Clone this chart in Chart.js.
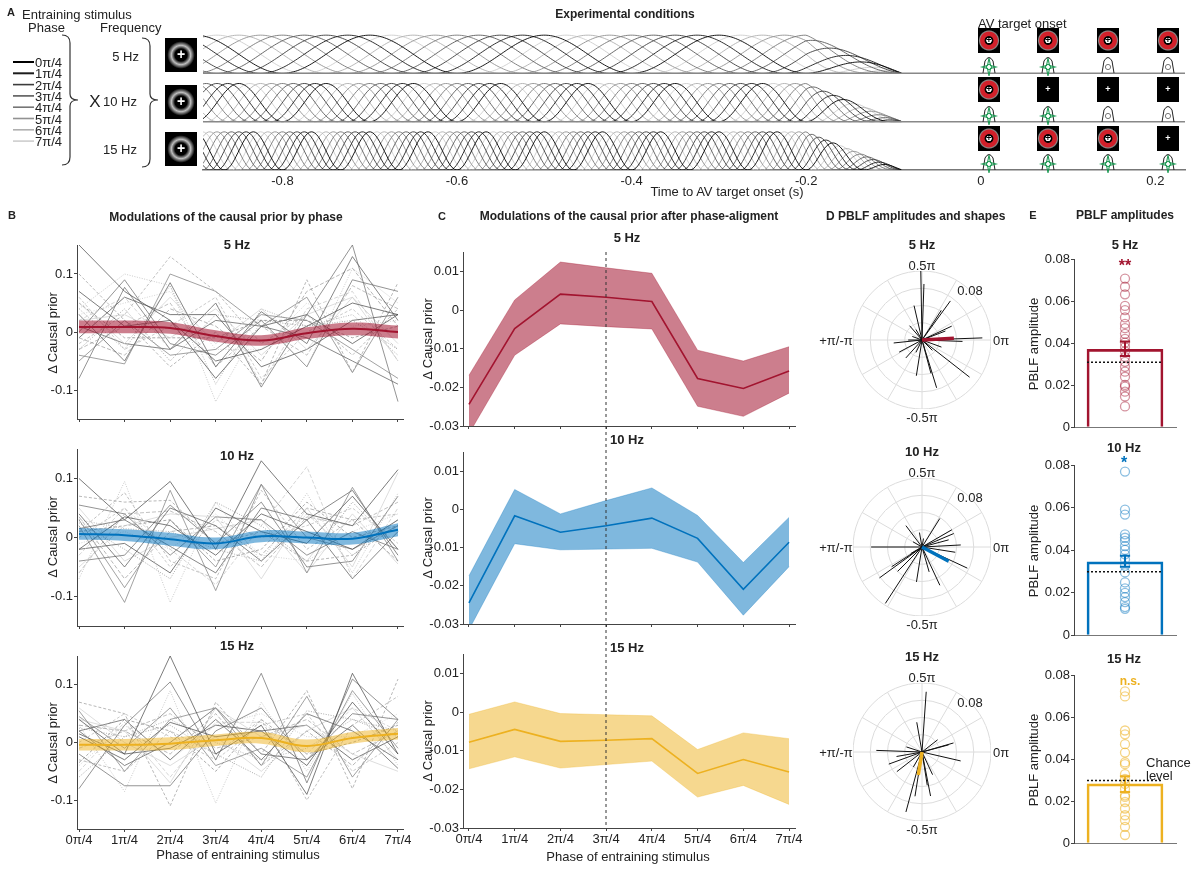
<!DOCTYPE html>
<html>
<head>
<meta charset="utf-8">
<title>Modulations of the causal prior</title>
<script src="https://cdn.jsdelivr.net/npm/chart.js@4.4.1/dist/chart.umd.min.js"></script>
<style>
  body { margin:0; width:1200px; height:876px; background:#fff; position:relative; overflow:hidden;
         font-family:'Liberation Sans', Arial, Helvetica, sans-serif; color:#222; }
  canvas { position:absolute; }
  .t { position:absolute; white-space:nowrap; line-height:1; z-index:5; }
  .icon { position:absolute; z-index:3; }
</style>
</head>
<body>
<script>
// ---------------- data ----------------
const phaseLabels = ['0π/4', '1π/4', '2π/4', '3π/4', '4π/4', '5π/4', '6π/4', '7π/4'];
const freqLabels = ['5 Hz', '10 Hz', '15 Hz'];

// panel A: entraining stimulus (frequency in Hz, phase in multiples of pi/4, timing in s)
const stimFreqs = [5, 10, 15];
const stimPhases = [0, 1, 2, 3, 4, 5, 6, 7];
const stimStart = -0.891;
const stimRampStart = -0.2;
const stimEnd = -0.09;
const timeTicks = [-0.8, -0.6, -0.4, -0.2, 0, 0.2];
// which target frames show the ring / the sound, per frequency row
const targetRing = [[1, 1, 1, 1], [1, 0, 0, 0], [1, 1, 1, 0]];
const targetSound = [[1, 1, 0, 0], [1, 1, 0, 0], [1, 1, 1, 1]];

// panel B: single participants (delta causal prior per phase)
const subj5Hz = [
  [0.15, 0.07, 0.02, -0.05, -0.03, 0.01, 0.05, 0.03],
  [0.10, 0.02, -0.06, 0.00, -0.09, 0.09, -0.07, 0.085],
  [-0.08, 0.077, -0.03, 0.05, -0.095, 0.03, 0.15, -0.12],
  [0.04, 0.10, 0.08, -0.12, 0.02, -0.06, 0.11, 0.05],
  [-0.04, -0.055, 0.10, 0.07, 0.01, 0.06, -0.07, 0.06],
  [0.02, 0.06, -0.03, 0.05, -0.09, 0.04, 0.07, -0.05],
  [0.03, -0.05, 0.085, -0.06, 0.035, -0.02, 0.13, 0.02],
  [-0.02, 0.03, 0.13, 0.07, -0.02, 0.03, -0.04, 0.04],
  [0.05, -0.02, 0.06, -0.02, 0.04, -0.03, 0.06, -0.05],
  [-0.03, 0.04, -0.05, 0.03, 0.02, 0.01, 0.02, -0.03],
  [0.07, 0.01, 0.02, -0.08, 0.01, 0.03, -0.02, 0.03],
  [-0.01, -0.04, 0.04, 0.01, -0.05, 0.07, 0.11, 0.01],
  [0.00, 0.09, -0.02, -0.04, 0.02, -0.06, 0.09, 0.07],
  [0.06, -0.03, 0.01, 0.06, -0.08, 0.00, 0.04, -0.03],
  [-0.05, 0.02, -0.04, -0.03, 0.03, 0.02, -0.03, -0.08],
  [0.03, 0.05, 0.07, -0.03, -0.03, 0.05, 0.01, 0.02],
  [0.01, -0.02, -0.03, 0.02, 0.01, -0.01, -0.05, -0.09],
  [-0.03, 0.01, 0.05, -0.06, 0.01, -0.04, 0.08, 0.04],
  [0.02, 0.03, -0.01, 0.04, -0.04, 0.03, 0.06, -0.02],
  [0.05, -0.01, -0.01, -0.01, 0.02, 0.02, -0.01, 0.01],
  [-0.01, 0.06, 0.03, 0.03, -0.06, -0.03, 0.02, 0.03],
  [0.04, -0.03, 0.08, -0.09, 0.04, 0.01, 0.03, -0.04]
];
const subj10Hz = [
  [0.10, 0.03, 0.095, -0.02, 0.13, 0.04, 0.02, 0.115],
  [0.07, 0.06, 0.063, -0.01, 0.01, -0.04, -0.03, 0.02],
  [0.055, 0.04, -0.03, 0.035, 0.03, -0.03, 0.01, -0.02],
  [-0.07, 0.095, -0.11, 0.06, -0.04, 0.075, -0.06, 0.075],
  [0.02, -0.11, 0.08, -0.09, 0.09, -0.06, 0.085, -0.04],
  [-0.03, 0.05, -0.02, -0.08, 0.02, 0.12, -0.07, 0.05],
  [0.04, -0.05, 0.05, 0.02, -0.04, 0.03, 0.08, -0.03],
  [0.01, 0.076, -0.04, -0.07, 0.08, -0.02, 0.03, 0.04],
  [-0.05, 0.02, 0.04, 0.035, -0.07, 0.05, -0.05, 0.11],
  [0.025, -0.02, -0.07, 0.06, 0.02, -0.04, 0.06, -0.02],
  [-0.02, 0.035, 0.02, -0.03, 0.04, 0.01, -0.02, 0.03],
  [0.035, -0.07, 0.01, 0.02, -0.03, 0.05, 0.03, -0.04],
  [-0.04, -0.03, 0.055, -0.01, 0.06, -0.05, -0.04, 0.07],
  [0.00, 0.05, -0.05, 0.03, 0.00, 0.02, 0.05, -0.01],
  [0.03, -0.085, 0.03, -0.05, 0.09, 0.00, -0.02, 0.02],
  [-0.01, 0.01, -0.02, 0.04, -0.03, -0.04, 0.01, 0.04],
  [0.015, 0.03, -0.015, -0.06, 0.05, 0.03, -0.07, 0.01],
  [-0.06, 0.04, 0.045, 0.01, -0.05, 0.035, 0.02, 0.06],
  [0.05, -0.04, 0.00, 0.015, 0.03, -0.06, 0.04, -0.045],
  [0.01, 0.02, 0.03, -0.04, -0.02, 0.06, 0.00, 0.02],
  [-0.02, -0.01, -0.06, 0.05, 0.01, -0.01, 0.07, -0.02],
  [0.03, 0.015, 0.01, -0.02, -0.04, 0.04, -0.03, 0.03]
];
const subj15Hz = [
  [0.04, -0.02, 0.15, -0.02, 0.03, -0.09, 0.12, -0.02],
  [0.07, 0.05, -0.11, 0.07, -0.02, 0.09, -0.08, 0.11],
  [-0.08, 0.03, 0.105, -0.03, 0.12, -0.07, 0.11, 0.04],
  [0.03, -0.085, 0.09, -0.105, 0.07, -0.05, 0.085, -0.04],
  [0.055, -0.05, 0.04, 0.06, -0.04, 0.08, -0.06, 0.04],
  [-0.05, 0.035, -0.06, 0.035, 0.035, -0.02, 0.06, 0.02],
  [0.02, 0.04, -0.03, 0.04, -0.03, 0.05, 0.02, -0.03],
  [-0.03, -0.05, 0.02, -0.02, 0.04, -0.10, 0.03, 0.08],
  [0.04, 0.02, -0.07, 0.06, 0.01, 0.03, -0.02, -0.05],
  [-0.06, 0.01, 0.03, -0.02, -0.06, 0.055, 0.04, 0.01],
  [0.01, -0.03, 0.035, 0.01, 0.02, -0.04, 0.07, -0.02],
  [0.03, 0.02, -0.02, 0.05, -0.04, 0.02, -0.04, 0.035],
  [-0.02, -0.075, -0.075, 0.02, 0.06, -0.03, 0.05, 0.04],
  [0.00, 0.05, 0.01, -0.03, 0.03, 0.05, -0.05, 0.00],
  [0.045, -0.01, 0.06, -0.04, -0.01, -0.06, 0.09, -0.01],
  [-0.04, 0.03, -0.03, 0.03, 0.05, 0.01, 0.01, 0.05],
  [0.02, -0.04, 0.00, 0.06, -0.02, -0.03, 0.03, -0.045],
  [-0.01, 0.02, 0.05, -0.01, 0.01, 0.04, -0.02, 0.02],
  [0.06, 0.00, -0.04, 0.01, -0.05, 0.02, 0.06, -0.03],
  [-0.035, 0.04, 0.02, -0.05, 0.04, -0.02, 0.00, 0.03],
  [0.015, -0.02, -0.01, 0.03, 0.02, 0.03, -0.03, 0.01],
  [0.025, 0.01, 0.04, 0.00, -0.03, -0.01, 0.04, 0.02]
];
// panel B: group mean and s.e.m.
const meanB5 = [0.0087, 0.0087, 0.0070, -0.0070, -0.0145, -0.0020, 0.0055, 0.0000];
const semB5 = [0.011, 0.011, 0.010, 0.010, 0.009, 0.010, 0.011, 0.011];
const meanB10 = [0.0060, 0.0040, -0.0030, -0.0100, 0.0020, 0.0000, -0.0020, 0.0130];
const semB10 = [0.010, 0.010, 0.011, 0.010, 0.010, 0.010, 0.010, 0.011];
const meanB15 = [-0.0040, -0.0040, -0.0020, 0.0040, 0.0080, -0.0060, 0.0080, 0.0150];
const semB15 = [0.010, 0.010, 0.011, 0.010, 0.010, 0.011, 0.010, 0.010];

// panel C: phase-aligned mean with upper / lower band edges
const meanC5 = [-0.0244, -0.0048, 0.0041, 0.0033, 0.0022, -0.0177, -0.0203, -0.0158];
const upC5 = [-0.0169, 0.0026, 0.0124, 0.0109, 0.0095, -0.0104, -0.0132, -0.0095];
const loC5 = [-0.0320, -0.0117, -0.0036, -0.0043, -0.0049, -0.0249, -0.0275, -0.0215];
const meanC10 = [-0.0245, -0.0017, -0.0060, -0.0043, -0.0023, -0.0076, -0.0209, -0.0086];
const upC10 = [-0.0174, 0.0052, -0.0012, 0.0023, 0.0056, -0.0016, -0.0139, -0.0021];
const loC10 = [-0.0315, -0.0090, -0.0106, -0.0104, -0.0102, -0.0138, -0.0277, -0.0150];
const meanC15 = [-0.0078, -0.0045, -0.0076, -0.0073, -0.0069, -0.0159, -0.0123, -0.0155];
const upC15 = [-0.0006, 0.0026, -0.0004, -0.0007, -0.0010, -0.0097, -0.0054, -0.0069];
const loC15 = [-0.0147, -0.0116, -0.0145, -0.0136, -0.0127, -0.0220, -0.0190, -0.0239];

// panel D: single participant PBLF (phase in degrees, amplitude)
const pblfPhase5 = [91, 88, 103, 54, 57, 25, 131, 2, -2, 180, 186, 208, 261, -75, -73, -38, 228, -20, 21, -45, 244, 160, 120];
const pblfAmp5 = [0.080, 0.065, 0.041, 0.056, 0.041, 0.038, 0.022, 0.070, 0.047, 0.016, 0.033, 0.030, 0.042, 0.040, 0.058, 0.070, 0.028, 0.024, 0.029, 0.017, 0.016, 0.012, 0.014];
const pblfPhase10 = [180, 237, 216, 213, 127, 100, 58, 30, 23, 3, -9, -25, -65, 261, 210, -74, 225, 15, 150, 80];
const pblfAmp10 = [0.059, 0.078, 0.061, 0.042, 0.031, 0.017, 0.039, 0.040, 0.040, 0.045, 0.039, 0.058, 0.049, 0.041, 0.015, 0.030, 0.040, 0.032, 0.012, 0.010];
const pblfPhase15 = [86, 255, -13, 16, 178, 200, 218, -79, -81, 261, 100, 38, 15, 162, -65, 190, 240];
const pblfAmp15 = [0.070, 0.072, 0.046, 0.038, 0.053, 0.041, 0.037, 0.052, 0.039, 0.052, 0.035, 0.023, 0.032, 0.019, 0.029, 0.030, 0.020];
const pblfMeanPhase = [3, -28, 261];
const pblfMeanAmp = [0.037, 0.035, 0.027];
const polarRings = [0.02, 0.04, 0.06, 0.08];
const polarMax = 0.08;

// panel E: PBLF amplitudes per participant, group mean, s.e.m. limits and chance level
const ampE5 = [0.0707, 0.0668, 0.0632, 0.0577, 0.0557, 0.0522, 0.0491, 0.0471, 0.0444, 0.0420, 0.0402, 0.0381, 0.0361, 0.0334, 0.0311, 0.0287, 0.0264, 0.0240, 0.0201, 0.0193, 0.0169, 0.0146, 0.0099];
const ampE10 = [0.0769, 0.0590, 0.0567, 0.0474, 0.0458, 0.0443, 0.0419, 0.0401, 0.0380, 0.0357, 0.0326, 0.0295, 0.0248, 0.0220, 0.0199, 0.0179, 0.0155, 0.0132, 0.0124];
const ampE15 = [0.0722, 0.0698, 0.0536, 0.0518, 0.0471, 0.0431, 0.0384, 0.0376, 0.0329, 0.0306, 0.0282, 0.0259, 0.0227, 0.0220, 0.0196, 0.0165, 0.0133, 0.0110, 0.0078, 0.0039];
const meanE = [0.0370, 0.0345, 0.0282];
const semLoE = [0.0339, 0.0322, 0.0243];
const semHiE = [0.0408, 0.0373, 0.0318];
const chanceE = [0.0309, 0.0298, 0.0298];
const signifE = ['**', '*', 'n.s.'];

// ---------------- styles ----------------
const phaseGray = ['#000000', '#1c1c1c', '#3c3c3c', '#5a5a5a', '#767676', '#929292', '#b0b0b0', '#cdcdcd'];
const subjGray = ['#444', '#999', '#666', '#b4b4b4', '#7a7a7a', '#c4c4c4', '#555', '#a6a6a6', '#cfcfcf', '#888'];
const subjDash = [[], [3, 2], [], [1, 1.5], [], [4, 2]];
const freqColor = ['#A2142F', '#0072BD', '#EDB120'];
const bandColor = ['rgba(162,20,47,0.55)', 'rgba(0,114,189,0.5)', 'rgba(237,177,32,0.5)'];
const tintColor = ['rgba(162,20,47,0.45)', 'rgba(0,114,189,0.45)', 'rgba(237,177,32,0.55)'];

Chart.defaults.font.family = "'Liberation Sans', Arial, Helvetica, sans-serif";
Chart.defaults.font.size = 13;
Chart.defaults.color = '#222';
Chart.defaults.animation = false;
Chart.defaults.plugins.legend.display = false;
Chart.defaults.plugins.tooltip.enabled = false;
Chart.defaults.elements.point.radius = 0;

// ---------------- helpers ----------------
function label(text, x, y, o = {}) {
  const d = document.createElement('div');
  d.className = 't';
  d.textContent = text;
  const a = o.anchor || 'c';
  let tf = a === 'c' ? 'translate(-50%,-50%)' : a === 'r' ? 'translate(-100%,-50%)' : 'translateY(-50%)';
  if (o.rot) tf += ` rotate(${o.rot}deg)`;
  d.style.left = x + 'px';
  d.style.top = y + 'px';
  d.style.fontSize = (o.size || 13) + 'px';
  d.style.fontWeight = o.bold ? 'bold' : 'normal';
  d.style.color = o.color || '#222';
  d.style.transform = tf;
  document.body.appendChild(d);
  return d;
}

function addCanvas(area, m) {
  const c = document.createElement('canvas');
  const w = area.r - area.l + m.l + m.r;
  const h = area.b - area.t + m.t + m.b;
  c.width = w;
  c.height = h;
  c.style.left = (area.l - m.l) + 'px';
  c.style.top = (area.t - m.t) + 'px';
  c.style.width = w + 'px';
  c.style.height = h + 'px';
  document.body.appendChild(c);
  return c;
}

const fixX = h => s => { s.height = h; s.paddingLeft = 0; s.paddingRight = 0; };
const fixY = w => s => { s.width = w; s.paddingTop = 0; s.paddingBottom = 0; };
const setTicks = vals => s => { s.ticks = vals.map(v => ({ value: v })); };
const numFmt = v => Math.abs(v) < 1e-9 ? '0' : String(+v.toFixed(3));
const phaseFmt = v => phaseLabels[Math.round(v)];

function xAxis(min, max, ticks, showLabels, h, fmt) {
  return {
    type: 'linear', min, max, bounds: 'data', offset: false,
    afterBuildTicks: setTicks(ticks), afterFit: fixX(h),
    grid: { display: true, drawOnChartArea: false, drawTicks: true, tickLength: 3, color: '#444' },
    border: { display: true, color: '#444' },
    ticks: { display: showLabels, padding: 1, autoSkip: false, maxRotation: 0, callback: fmt }
  };
}
function yAxis(min, max, ticks, w) {
  return {
    type: 'linear', min, max, bounds: 'data',
    afterBuildTicks: setTicks(ticks), afterFit: fixY(w),
    grid: { display: true, drawOnChartArea: false, drawTicks: true, tickLength: 3, color: '#444' },
    border: { display: true, color: '#444' },
    ticks: { padding: 1, autoSkip: false, callback: numFmt }
  };
}
const pts = arr => arr.map((v, i) => ({ x: i, y: v }));

// ---------------- panel A ----------------
function drawPanelA() {
  const area = { l: 203, r: 1185, t: 24.5, b: 170 };
  const m = { l: 8, r: 12, t: 4, b: 20 };
  const ds = [];
  const rows = stimFreqs.length;
  for (let r = 1; r < rows; r++) {
    ds.push({ data: [{ x: stimStart, y: r }, { x: 0.234, y: r }], borderColor: '#888', borderWidth: 1.5 });
  }
  stimFreqs.forEach((f, i) => {
    const base = rows - 1 - i;
    stimPhases.forEach((p, k) => {
      // stimulus waveform: raised cosine at the given frequency and phase, ramped off before target
      const wave = [];
      for (let t = stimStart; t <= stimEnd + 1e-9; t += 0.002) {
        const env = t < stimRampStart ? 1 : Math.max(0, (stimEnd - t) / (stimEnd - stimRampStart));
        wave.push({ x: t, y: base + 0.79 * env * 0.5 * (1 - Math.cos(2 * Math.PI * f * t + p * Math.PI / 4)) });
      }
      ds.push({ data: wave, borderColor: phaseGray[k], borderWidth: 0.9 });
    });
  });
  new Chart(addCanvas(area, m), {
    type: 'line',
    data: { datasets: ds },
    options: {
      responsive: false,
      layout: { padding: { left: m.l, right: m.r, top: m.t, bottom: 0 } },
      scales: {
        x: {
          type: 'linear', min: stimStart, max: 0.234, bounds: 'data',
          afterBuildTicks: setTicks(timeTicks), afterFit: fixX(m.b),
          grid: { display: false, drawTicks: false },
          border: { display: true, color: '#777', width: 1.5 },
          ticks: { padding: 4, autoSkip: false, maxRotation: 0, callback: v => numFmt(v) }
        },
        y: { display: false, min: 0, max: 3 }
      }
    }
  });
}

// ---------------- panel B ----------------
function drawPanelB(area, subjects, mean, sem, fi, showX) {
  const m = { l: 48, r: 8, t: 8, b: showX ? 22 : 5 };
  const ds = [
    { data: pts(mean), borderColor: freqColor[fi], borderWidth: 2, tension: 0.4 },
    { data: pts(mean.map((v, i) => v + sem[i])), borderWidth: 0, borderColor: 'rgba(0,0,0,0)', backgroundColor: bandColor[fi], fill: '+1', tension: 0.4 },
    { data: pts(mean.map((v, i) => v - sem[i])), borderWidth: 0, borderColor: 'rgba(0,0,0,0)', tension: 0.4 }
  ];
  subjects.forEach((row, k) => ds.push({
    data: pts(row), borderColor: subjGray[k % subjGray.length],
    borderDash: subjDash[k % subjDash.length], borderWidth: 0.7
  }));
  new Chart(addCanvas(area, m), {
    type: 'line',
    data: { datasets: ds },
    options: {
      responsive: false,
      layout: { padding: { left: 0, right: m.r, top: m.t, bottom: 0 } },
      scales: {
        x: xAxis(-0.044, 7.11, [0, 1, 2, 3, 4, 5, 6, 7], showX, m.b, phaseFmt),
        y: yAxis(-0.15, 0.15, [-0.1, 0, 0.1], m.l)
      }
    }
  });
}

// ---------------- panel C ----------------
function drawPanelC(area, mean, up, lo, fi, showX) {
  const m = { l: 48, r: 8, t: 8, b: showX ? 22 : 5 };
  const ds = [
    { data: pts(mean), borderColor: freqColor[fi], borderWidth: 1.6 },
    { data: pts(up), borderWidth: 0.6, borderColor: bandColor[fi], backgroundColor: bandColor[fi], fill: '+1' },
    { data: pts(lo), borderWidth: 0.6, borderColor: bandColor[fi] }
  ];
  new Chart(addCanvas(area, m), {
    type: 'line',
    data: { datasets: ds },
    options: {
      responsive: false,
      layout: { padding: { left: 0, right: m.r, top: m.t, bottom: 0 } },
      scales: {
        x: xAxis(-0.13, 7.13, [0, 1, 2, 3, 4, 5, 6, 7], showX, m.b, phaseFmt),
        y: yAxis(-0.03, 0.015, [-0.03, -0.02, -0.01, 0, 0.01], m.l)
      }
    }
  });
}

// ---------------- panel D ----------------
const polarGrid = {
  id: 'polarGrid',
  beforeDatasetsDraw(chart) {
    const { ctx, scales: { x, y } } = chart;
    const cx = x.getPixelForValue(0), cy = y.getPixelForValue(0);
    ctx.save();
    ctx.strokeStyle = '#dcdcdc';
    ctx.lineWidth = 1;
    polarRings.forEach(r => {
      ctx.beginPath();
      ctx.arc(cx, cy, x.getPixelForValue(r) - cx, 0, 2 * Math.PI);
      ctx.stroke();
    });
    const R = x.getPixelForValue(polarMax) - cx;
    for (let a = 0; a < 360; a += 30) {
      ctx.beginPath();
      ctx.moveTo(cx, cy);
      ctx.lineTo(cx + R * Math.cos(a * Math.PI / 180), cy - R * Math.sin(a * Math.PI / 180));
      ctx.stroke();
    }
    ctx.restore();
  }
};
const polar = (deg, amp) => ({ x: amp * Math.cos(deg * Math.PI / 180), y: amp * Math.sin(deg * Math.PI / 180) });

function drawPanelD(cx, cy, phases, amps, fi) {
  const half = 65;
  const area = { l: cx - half, r: cx + half, t: cy - half, b: cy + half };
  const m = { l: 4, r: 4, t: 4, b: 4 };
  const ds = [{ data: [{ x: 0, y: 0 }, polar(pblfMeanPhase[fi], pblfMeanAmp[fi])], borderColor: freqColor[fi], borderWidth: 3.5 }];
  phases.forEach((p, k) => ds.push({ data: [{ x: 0, y: 0 }, polar(p, amps[k])], borderColor: '#111', borderWidth: 1 }));
  new Chart(addCanvas(area, m), {
    type: 'line',
    data: { datasets: ds },
    plugins: [polarGrid],
    options: {
      responsive: false,
      layout: { padding: m },
      scales: {
        x: { type: 'linear', display: false, min: -polarMax, max: polarMax },
        y: { type: 'linear', display: false, min: -polarMax, max: polarMax }
      }
    }
  });
  label(freqLabels[fi], cx, cy - 96, { bold: true });
  label('0.5π', cx, cy - 75);
  label('-0.5π', cx, cy + 77);
  label('0π', cx + 79, cy);
  label('+π/-π', cx - 86, cy);
  label('0.08', cx + 48, cy - 50);
}

// ---------------- panel E ----------------
function drawPanelE(area, amps, fi) {
  const m = { l: 45, r: 6, t: 8, b: 4 };
  const c = freqColor[fi];
  const ds = [
    { type: 'line', data: [{ x: -0.745, y: chanceE[fi] }, { x: 0.745, y: chanceE[fi] }], borderColor: '#111', borderWidth: 1.5, borderDash: [2, 2] },
    { type: 'line', data: [{ x: 0, y: semLoE[fi] }, { x: 0, y: semHiE[fi] }], borderColor: c, borderWidth: 2 },
    { type: 'line', data: [{ x: -0.1, y: semLoE[fi] }, { x: 0.1, y: semLoE[fi] }], borderColor: c, borderWidth: 2 },
    { type: 'line', data: [{ x: -0.1, y: semHiE[fi] }, { x: 0.1, y: semHiE[fi] }], borderColor: c, borderWidth: 2 },
    { type: 'scatter', showLine: false, data: amps.map(v => ({ x: 0, y: v })), pointRadius: 4.5,
      pointBorderColor: tintColor[fi], pointBackgroundColor: 'rgba(0,0,0,0)', pointBorderWidth: 1.3 },
    { type: 'bar', data: [{ x: 0, y: meanE[fi] }], backgroundColor: 'rgba(255,255,255,0)', borderColor: c, borderWidth: 2, barThickness: 76 }
  ];
  new Chart(addCanvas(area, m), {
    type: 'bar',
    data: { datasets: ds },
    options: {
      responsive: false,
      layout: { padding: { left: 0, right: m.r, top: m.t, bottom: 0 } },
      scales: {
        x: {
          type: 'linear', min: -1, max: 1, bounds: 'data', offset: false, afterFit: fixX(m.b),
          grid: { display: false }, border: { display: true, color: '#777' }, ticks: { display: false }
        },
        y: yAxis(0, 0.08, [0, 0.02, 0.04, 0.06, 0.08], m.l)
      }
    }
  });
}

// ---------------- panel A decorations ----------------
function stimIcon(x, y) {
  const d = document.createElement('div');
  d.className = 'icon';
  d.style.cssText += `left:${x}px;top:${y}px;width:32px;height:34px;` +
    'background:radial-gradient(circle closest-side,#000 0 38%,#bdbdbd 60%,#000 86%);';
  const p = document.createElement('div');
  p.textContent = '+';
  p.style.cssText = 'position:absolute;left:0;right:0;top:8px;text-align:center;color:#fff;font:bold 14px sans-serif;';
  d.appendChild(p);
  document.body.appendChild(d);
}
function targetIcon(x, y, ring) {
  const d = document.createElement('div');
  d.className = 'icon';
  const bg = ring
    ? 'radial-gradient(circle closest-side,#fff 0 22%,#000 27% 36%,#d1202a 44% 76%,#8a8a8a 86%,#000 96%)'
    : '#000';
  d.style.cssText += `left:${x}px;top:${y}px;width:22px;height:25px;background:${bg};`;
  const p = document.createElement('div');
  p.textContent = '+';
  p.style.cssText = `position:absolute;left:0;right:0;top:7px;text-align:center;color:${ring ? '#000' : '#fff'};font:bold 9px sans-serif;`;
  d.appendChild(p);
  document.body.appendChild(d);
}

function drawOverlay() {
  const ns = 'http://www.w3.org/2000/svg';
  const svg = document.createElementNS(ns, 'svg');
  svg.setAttribute('width', 1200);
  svg.setAttribute('height', 876);
  svg.style.cssText = 'position:absolute;left:0;top:0;z-index:4;pointer-events:none;';
  let html = '';
  // phase legend swatches
  phaseGray.forEach((g, k) => {
    const y = 62 + k * 11.3;
    html += `<line x1="13" y1="${y}" x2="34" y2="${y}" stroke="${g}" stroke-width="${k < 2 ? 2 : 1.6}"/>`;
  });
  // braces
  const brace = (x0, x1, x2, y0, y1, ym) =>
    `<path d="M${x0} ${y0} Q${x1} ${y0} ${x1} ${y0 + 8} L${x1} ${ym - 6} Q${x1} ${ym} ${x2} ${ym} Q${x1} ${ym} ${x1} ${ym + 6} L${x1} ${y1 - 8} Q${x1} ${y1} ${x0} ${y1}" fill="none" stroke="#333" stroke-width="1.2"/>`;
  html += brace(62, 70, 78, 35, 165, 100);
  html += brace(142, 150, 158, 38, 167, 100);
  // speakers under target frames
  const colX = [989, 1048, 1108, 1168];
  const rowBase = [73, 122, 170];
  targetSound.forEach((row, r) => row.forEach((s, c) => {
    const cx = colX[c], b = rowBase[r];
    html += `<path d="M${cx - 6} ${b} L${cx - 4} ${b - 12} Q${cx} ${b - 19} ${cx + 4} ${b - 12} L${cx + 6} ${b}" fill="none" stroke="#222" stroke-width="1"/>`;
    html += `<circle cx="${cx}" cy="${b - 6}" r="2.6" fill="none" stroke="${s ? '#1f9a55' : '#777'}" stroke-width="1"/>`;
    if (s) {
      html += `<polygon points="${cx},${b - 15} ${cx + 1.5},${b - 7.5} ${cx + 7},${b - 6} ${cx + 1.5},${b - 4.5} ${cx},${b + 3} ${cx - 1.5},${b - 4.5} ${cx - 7},${b - 6} ${cx - 1.5},${b - 7.5}" fill="none" stroke="#1f9a55" stroke-width="1.1"/>`;
    }
  }));
  // alignment reference in panel C (3π/4)
  html += '<line x1="606" y1="252" x2="606" y2="828" stroke="#333" stroke-width="1" stroke-dasharray="3,3"/>';
  svg.innerHTML = html;
  document.body.appendChild(svg);
}

// ---------------- build ----------------
drawPanelA();
drawOverlay();
[38, 85, 132].forEach(y => stimIcon(165, y));
const targetTop = [28, 77, 126];
const targetX = [978, 1037, 1097, 1157];
targetRing.forEach((row, r) => row.forEach((ring, c) => targetIcon(targetX[c], targetTop[r], ring)));

label('A', 7, 12, { anchor: 'l', bold: true, size: 11 });
label('Entraining stimulus', 22, 14, { anchor: 'l' });
label('Phase', 28, 27, { anchor: 'l' });
label('Frequency', 100, 27, { anchor: 'l' });
phaseLabels.forEach((p, k) => label(p, 35, 62 + k * 11.3, { anchor: 'l' }));
label('X', 95, 101, { size: 17 });
label('5 Hz', 139, 56, { anchor: 'r' });
label('10 Hz', 103, 101, { anchor: 'l' });
label('15 Hz', 137, 149, { anchor: 'r' });
label('Experimental conditions', 625, 14, { bold: true, size: 12 });
label('AV target onset', 978, 23, { anchor: 'l' });
label('Time to AV target onset (s)', 727, 191);

// panel B
label('B', 8, 215, { anchor: 'l', bold: true, size: 11 });
label('Modulations of the causal prior by phase', 226, 217, { bold: true, size: 12 });
drawPanelB({ l: 77, r: 403, t: 245, b: 419 }, subj5Hz, meanB5, semB5, 0, false);
drawPanelB({ l: 77, r: 403, t: 449, b: 626 }, subj10Hz, meanB10, semB10, 1, false);
drawPanelB({ l: 77, r: 403, t: 656, b: 829 }, subj15Hz, meanB15, semB15, 2, true);
label('5 Hz', 237, 244, { bold: true });
label('10 Hz', 237, 455, { bold: true });
label('15 Hz', 237, 645, { bold: true });
[333, 537, 743].forEach(y => label('Δ Causal prior', 52, y, { rot: -90 }));
label('Phase of entraining stimulus', 238, 854);

// panel C
label('C', 438, 216, { anchor: 'l', bold: true, size: 11 });
label('Modulations of the causal prior after phase-aligment', 629, 216, { bold: true, size: 12 });
drawPanelC({ l: 463, r: 795, t: 252, b: 426 }, meanC5, upC5, loC5, 0, false);
drawPanelC({ l: 463, r: 795, t: 452, b: 624 }, meanC10, upC10, loC10, 1, false);
drawPanelC({ l: 463, r: 795, t: 654, b: 828 }, meanC15, upC15, loC15, 2, true);
label('5 Hz', 627, 237, { bold: true });
label('10 Hz', 627, 439, { bold: true });
label('15 Hz', 627, 647, { bold: true });
[339, 538, 741].forEach(y => label('Δ Causal prior', 427, y, { rot: -90 }));
label('Phase of entraining stimulus', 628, 856);

// panel D
label('D PBLF amplitudes and shapes', 826, 216, { anchor: 'l', bold: true, size: 12 });
drawPanelD(922, 340, pblfPhase5, pblfAmp5, 0);
drawPanelD(922, 547, pblfPhase10, pblfAmp10, 1);
drawPanelD(922, 752, pblfPhase15, pblfAmp15, 2);

// panel E
label('E', 1033, 215, { bold: true, size: 11 });
label('PBLF amplitudes', 1125, 215, { bold: true, size: 12 });
const eAreas = [{ l: 1074, r: 1176, t: 259, b: 429 }, { l: 1074, r: 1176, t: 465, b: 637 }, { l: 1074, r: 1176, t: 675, b: 845 }];
drawPanelE(eAreas[0], ampE5, 0);
drawPanelE(eAreas[1], ampE10, 1);
drawPanelE(eAreas[2], ampE15, 2);
label('5 Hz', 1125, 244, { bold: true });
label('10 Hz', 1124, 447, { bold: true });
label('15 Hz', 1124, 658, { bold: true });
label(signifE[0], 1125, 266, { bold: true, size: 16, color: freqColor[0] });
label(signifE[1], 1124, 463, { bold: true, size: 16, color: freqColor[1] });
label(signifE[2], 1130, 681, { bold: true, size: 12, color: freqColor[2] });
eAreas.forEach(a => label('PBLF amplitude', 1033, (a.t + a.b) / 2, { rot: -90 }));
label('Chance', 1146, 762, { anchor: 'l' });
label('level', 1146, 775, { anchor: 'l' });
</script>
</body>
</html>
